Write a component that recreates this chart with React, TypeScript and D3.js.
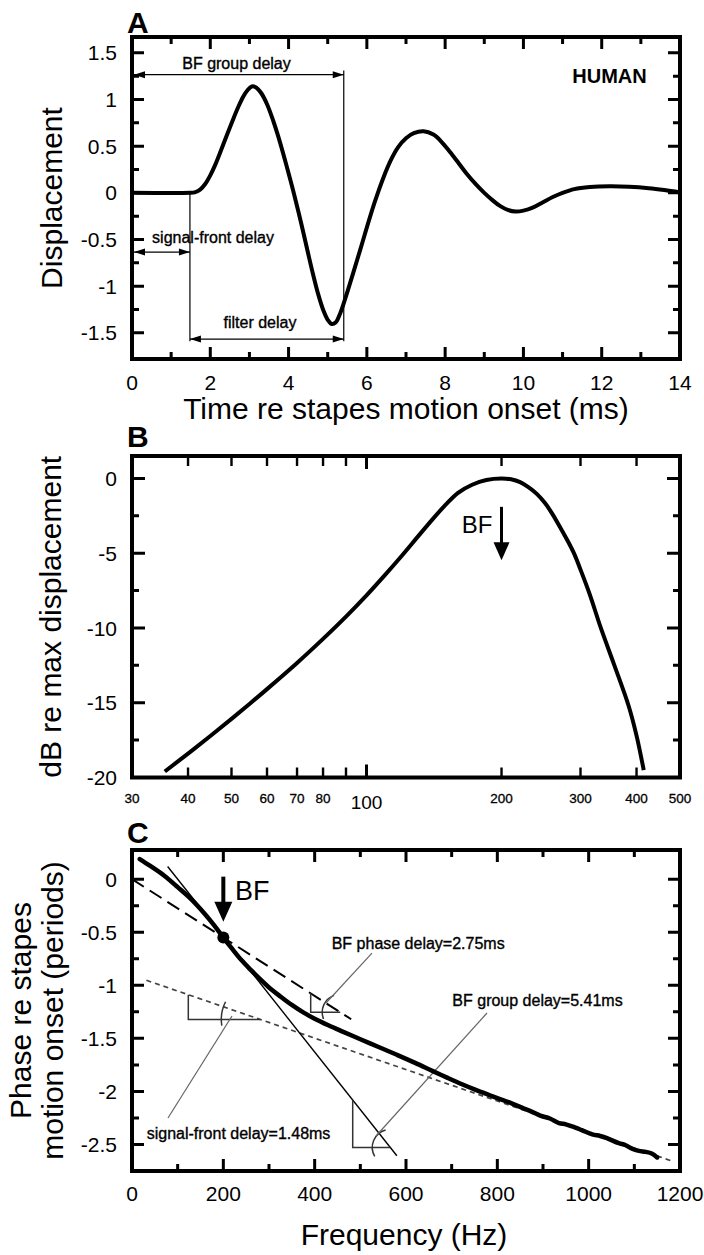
import React from 'react';
import * as d3 from 'd3';

const FONT = "'Liberation Sans', Arial, Helvetica, sans-serif";

// ---------- Panel A: impulse response ----------
const aTime = [0, 1.48, 1.6, 1.74, 1.87, 1.99, 2.12, 2.25, 2.42, 2.59, 2.72, 2.84, 2.95, 3.06, 3.17, 3.3, 3.45, 3.61, 3.74, 3.87, 4.0, 4.12, 4.25, 4.38, 4.5, 4.63, 4.76, 4.89, 5.0, 5.1, 5.2, 5.31, 5.45, 5.65, 5.83, 6.0, 6.2, 6.42, 6.6, 6.8, 7.0, 7.2, 7.45, 7.7, 7.9, 8.12, 8.35, 8.55, 8.8, 9.0, 9.2, 9.4, 9.6, 9.8, 10.0, 10.25, 10.5, 10.75, 11.0, 11.3, 11.7, 12.2, 12.7, 13.2, 13.6, 14];
const aDisp = [0, 0, 0.006, 0.035, 0.095, 0.18, 0.295, 0.43, 0.615, 0.795, 0.925, 1.03, 1.1, 1.14, 1.13, 1.07, 0.95, 0.77, 0.6, 0.41, 0.21, 0.02, -0.2, -0.43, -0.65, -0.88, -1.09, -1.26, -1.36, -1.405, -1.39, -1.3, -1.13, -0.86, -0.61, -0.37, -0.1, 0.16, 0.34, 0.49, 0.585, 0.64, 0.66, 0.625, 0.55, 0.44, 0.315, 0.205, 0.085, 0.0, -0.075, -0.14, -0.183, -0.2, -0.19, -0.155, -0.1, -0.045, 0.0, 0.04, 0.062, 0.07, 0.065, 0.05, 0.03, 0.005];
const aXMajor = [0, 2, 4, 6, 8, 10, 12, 14];
const aXMinor = [1, 3, 5, 7, 9, 11, 13];
const aYMajor = [-1.5, -1, -0.5, 0, 0.5, 1, 1.5];
const aYLabels = ['-1.5', '-1', '-0.5', '0', '0.5', '1', '1.5'];
const aYMinor = [-1.25, -0.75, -0.25, 0.25, 0.75, 1.25];
const aSignalFront = 1.48;
const aGroupDelay = 5.41;
const aGroupArrowY = 1.266;
const aSignalArrowY = -0.634;
const aFilterArrowY = -1.567;
const aGuideTop = 1.31;
const aGuideBottom = -1.59;

// ---------- Panel B: magnitude ----------
const bFreq = [35.5, 40, 45, 50, 55, 60, 70, 80, 90, 100, 110, 120, 130, 140, 150, 160, 172, 185, 200, 210, 220, 230, 240, 250, 260, 270, 280, 290, 300, 315, 333, 357, 384, 400, 415];
const bDb = [-19.6, -18.4, -17.19, -16.08, -15.05, -14.09, -12.34, -10.73, -9.24, -7.82, -6.45, -5.15, -3.91, -2.77, -1.77, -0.96, -0.42, -0.1, 0, -0.06, -0.25, -0.6, -1.05, -1.65, -2.4, -3.25, -4.1, -5.0, -6.1, -7.8, -10.0, -12.5, -15.2, -17.2, -19.5];
const bXLabels = [30, 40, 50, 60, 70, 80, 100, 200, 300, 400, 500];
const bXTicks = [40, 50, 60, 70, 80, 90, 200, 300, 400];
const bXBigTick = [100];
const bYMajor = [0, -5, -10, -15, -20];
const bYMinor = [-2.5, -7.5, -12.5, -17.5];
const bBF = 200;
const bArrowTop = -1.9;
const bArrowTip = -5.47;

// ---------- Panel C: phase ----------
const cFreq = [17, 40, 70, 100, 130, 160, 180, 200, 220, 240, 260, 280, 300, 325, 350, 375, 400, 430, 460, 500, 540, 580, 620, 660, 690, 724, 750, 782, 800, 830, 855, 875, 894, 915, 935, 950, 964, 985, 1008, 1025, 1040, 1066, 1080, 1095, 1110, 1125, 1138, 1150];
const cPhase = [0.19, 0.125, 0.035, -0.075, -0.19, -0.33, -0.435, -0.55, -0.66, -0.765, -0.855, -0.94, -1.02, -1.105, -1.185, -1.255, -1.315, -1.377, -1.434, -1.508, -1.581, -1.655, -1.731, -1.811, -1.87, -1.935, -1.981, -2.034, -2.063, -2.11, -2.155, -2.19, -2.228, -2.255, -2.298, -2.31, -2.33, -2.365, -2.405, -2.42, -2.44, -2.488, -2.505, -2.54, -2.56, -2.57, -2.585, -2.622];
const cXMajor = [0, 200, 400, 600, 800, 1000, 1200];
const cXMinor = [100, 300, 500, 700, 900, 1100];
const cYMajor = [0, -0.5, -1, -1.5, -2, -2.5];
const cYLabels = ['0', '-0.5', '-1', '-1.5', '-2', '-2.5'];
const cYMinor = [-0.25, -0.75, -1.25, -1.75, -2.25];
const cBF = [200, -0.55];
const cPhaseDelayLine = [[0, 0], [480, -1.32]];
const cGroupDelayLine = [[78, 0.12], [580, -2.606]];
const cSignalFrontLine = [[31.6, -0.953], [1185, -2.66]];
const cSFTriangle = [[123.3, -1.088], [123.3, -1.322], [281, -1.322]];
const cPDTriangle = [[391.3, -1.076], [391.3, -1.254], [456, -1.254]];
const cGDTriangle = [[483.3, -2.083], [483.3, -2.528], [565.6, -2.528]];
// arcs: [centerF, centerPhase, radiusPx, startDeg, endDeg]
const cArcs = [[281, -1.322, 39, -9, 27], [456, -1.254, 18, -22, 70], [565.6, -2.528, 18, -30, 75]];
const cLeaders = [[[525.5, -0.696], [424.8, -1.167]], [[777.4, -1.261], [534.3, -2.42]], [[219, -1.289], [78.8, -2.251]]];
const cArrowTop = 0.024;
const cArrowTip = -0.402;

const X0 = 132;
const X1 = 680;

function tickPath(xs: any, ys: any, xMaj: number[], xMin: number[], yMaj: number[], yMin: number[], maj: number, mn: number) {
  const r = ys.range();
  const yb = r[0];
  const yt = r[1];
  let d = '';
  const seg = (x1: number, y1: number, x2: number, y2: number) => {
    d += `M${x1},${y1}L${x2},${y2}`;
  };
  xMaj.forEach((v) => { const x = xs(v); seg(x, yb, x, yb - maj); seg(x, yt, x, yt + maj); });
  xMin.forEach((v) => { const x = xs(v); seg(x, yb, x, yb - mn); seg(x, yt, x, yt + mn); });
  yMaj.forEach((v) => { const y = ys(v); seg(X0, y, X0 + maj, y); seg(X1, y, X1 - maj, y); });
  yMin.forEach((v) => { const y = ys(v); seg(X0, y, X0 + mn, y); seg(X1, y, X1 - mn, y); });
  return d;
}

function frame(ys: any) {
  const r = ys.range();
  return <rect x={X0} y={r[1]} width={X1 - X0} height={r[0] - r[1]} fill="none" stroke="#000" strokeWidth={4} />;
}

function hArrow(x1: number, x2: number, y: number) {
  const L = 11, hw = 3.5;
  return (
    <g>
      <line x1={x1} y1={y} x2={x2} y2={y} stroke="#000" strokeWidth={1.2} />
      <polygon points={`${x1},${y} ${x1 + L},${y - hw} ${x1 + L},${y + hw}`} fill="#000" />
      <polygon points={`${x2},${y} ${x2 - L},${y - hw} ${x2 - L},${y + hw}`} fill="#000" />
    </g>
  );
}

function downArrow(x: number, y1: number, tip: number, w: number, hl: number, hw: number) {
  return (
    <g>
      <line x1={x} y1={y1} x2={x} y2={tip - hl + 2} stroke="#000" strokeWidth={w} />
      <polygon points={`${x - hw},${tip - hl} ${x + hw},${tip - hl} ${x},${tip}`} fill="#000" />
    </g>
  );
}

function arcPath(cx: number, cy: number, r: number, a0: number, a1: number) {
  const rad = Math.PI / 180;
  const p0 = [cx - r * Math.cos(a0 * rad), cy - r * Math.sin(a0 * rad)];
  const p1 = [cx - r * Math.cos(a1 * rad), cy - r * Math.sin(a1 * rad)];
  return `M${p0[0]},${p0[1]} A${r},${r} 0 0 1 ${p1[0]},${p1[1]}`;
}

export default function App() {
  const xA = d3.scaleLinear().domain([0, 14]).range([X0, X1]);
  const yA = d3.scaleLinear().domain([-1.78, 1.67]).range([359, 37]);
  const xB = d3.scaleLog().domain([30, 500]).range([X0, X1]);
  const yB = d3.scaleLinear().domain([-20, 1.5]).range([777.5, 456]);
  const xC = d3.scaleLinear().domain([0, 1200]).range([X0, X1]);
  const yC = d3.scaleLinear().domain([-2.75, 0.275]).range([1171, 850]);

  const lineA = d3.line<number>().x((d, i) => xA(aTime[i])).y((d) => yA(d)).curve(d3.curveCatmullRom.alpha(0.5));
  const lineB = d3.line<number>().x((d, i) => xB(bFreq[i])).y((d) => yB(d)).curve(d3.curveCatmullRom.alpha(0.5));
  const lineC = d3.line<number>().x((d, i) => xC(cFreq[i])).y((d) => yC(d)).curve(d3.curveCatmullRom.alpha(0.5));
  const segC = d3.line<number[]>().x((d) => xC(d[0])).y((d) => yC(d[1]));

  const tickFont = { fontFamily: FONT, fontSize: 21, fill: '#000' } as any;
  const titleFont = { fontFamily: FONT, fontSize: 30, fill: '#000' } as any;
  const annFont = { fontFamily: FONT, fontSize: 16, fill: '#000', stroke: '#000', strokeWidth: 0.35 } as any;
  const letterFont = { fontFamily: FONT, fontSize: 30, fontWeight: 'bold', fill: '#000' } as any;

  const aMid = (yA.range()[0] + yA.range()[1]) / 2;
  const bMid = (yB.range()[0] + yB.range()[1]) / 2;
  const cMid = (yC.range()[0] + yC.range()[1]) / 2;
  const xMid = (X0 + X1) / 2;

  const ticksA = tickPath(xA, yA, aXMajor, aXMinor, aYMajor, aYMinor, 12, 7);
  const ticksB1 = tickPath(xB, yB, bXBigTick, [], bYMajor, bYMinor, 13, 7);
  const ticksB2 = tickPath(xB, yB, bXTicks, [], [], [], 10, 7);
  const ticksC = tickPath(xC, yC, cXMajor, cXMinor, cYMajor, cYMinor, 12, 7);

  return (
    <svg width={704} height={1255} style={{ position: 'absolute', left: 0, top: 0, background: '#fff' }}>
      <rect x={0} y={0} width={704} height={1255} fill="#fff" />
      {/* ================= Panel A ================= */}
      <text x={127} y={33} style={letterFont}>A</text>
      <path d={ticksA} fill="none" stroke="#000" strokeWidth={3} />
      {aYMajor.map((v, i) => (
        <text key={'ayl' + i} x={117} y={yA(v)} dy="0.36em" textAnchor="end" style={tickFont}>{aYLabels[i]}</text>
      ))}
      {aXMajor.map((v, i) => (
        <text key={'axl' + i} x={xA(v)} y={390} textAnchor="middle" style={tickFont}>{v}</text>
      ))}
      <text x={xMid} y={419} textAnchor="middle" style={titleFont}>Time re stapes motion onset (ms)</text>
      <text transform={`translate(62,${aMid}) rotate(-90)`} textAnchor="middle" style={titleFont}>Displacement</text>
      {/* annotations */}
      <line x1={xA(aGroupDelay)} y1={yA(aGuideTop)} x2={xA(aGroupDelay)} y2={yA(aGuideBottom)} stroke="#000" strokeWidth={1.2} />
      <line x1={xA(aSignalFront)} y1={yA(0)} x2={xA(aSignalFront)} y2={yA(aGuideBottom)} stroke="#000" strokeWidth={1.2} />
      {hArrow(xA(0) + 2, xA(aGroupDelay), yA(aGroupArrowY))}
      {hArrow(xA(0) + 2, xA(aSignalFront), yA(aSignalArrowY))}
      {hArrow(xA(aSignalFront), xA(aGroupDelay), yA(aFilterArrowY))}
      <text x={xA(2.67)} y={yA(1.33)} textAnchor="middle" style={annFont}>BF group delay</text>
      <text x={xA(2.07)} y={yA(-0.535)} textAnchor="middle" style={annFont}>signal-front delay</text>
      <text x={xA(3.27)} y={yA(-1.45)} textAnchor="middle" style={annFont}>filter delay</text>
      <text x={xA(12.2)} y={yA(1.18)} textAnchor="middle" style={{ fontFamily: FONT, fontSize: 20, fontWeight: 'bold', fill: '#000' }}>HUMAN</text>
      <path d={lineA(aDisp) || ''} fill="none" stroke="#000" strokeWidth={4} strokeLinejoin="round" />
      {frame(yA)}

      {/* ================= Panel B ================= */}
      <text x={127} y={447} style={letterFont}>B</text>
      <path d={ticksB1} fill="none" stroke="#000" strokeWidth={3} />
      <path d={ticksB2} fill="none" stroke="#000" strokeWidth={2.4} />
      {bYMajor.map((v, i) => (
        <text key={'byl' + i} x={117} y={yB(v)} dy="0.36em" textAnchor="end" style={tickFont}>{String(v)}</text>
      ))}
      {bXLabels.map((v, i) => (
        v === 100 ? (
          <text key={'bxl' + i} x={xB(v)} y={809} textAnchor="middle" style={{ fontFamily: FONT, fontSize: 19, fill: '#000' }}>{v}</text>
        ) : (
          <text key={'bxl' + i} x={xB(v)} y={803} textAnchor="middle" style={{ fontFamily: FONT, fontSize: 13.5, fill: '#000', stroke: '#000', strokeWidth: 0.3 }}>{v}</text>
        )
      ))}
      <text transform={`translate(61,${bMid}) rotate(-90)`} textAnchor="middle" style={titleFont}>dB re max displacement</text>
      <path d={lineB(bDb) || ''} fill="none" stroke="#000" strokeWidth={4} strokeLinejoin="round" />
      {downArrow(xB(bBF), yB(bArrowTop), yB(bArrowTip), 3, 18, 8)}
      <text x={xB(bBF) - 9} y={yB(-3.67)} textAnchor="end" style={{ fontFamily: FONT, fontSize: 24, fill: '#000' }}>BF</text>
      {frame(yB)}

      {/* ================= Panel C ================= */}
      <text x={127} y={843} style={letterFont}>C</text>
      <path d={ticksC} fill="none" stroke="#000" strokeWidth={3} />
      {cYMajor.map((v, i) => (
        <text key={'cyl' + i} x={117} y={yC(v)} dy="0.36em" textAnchor="end" style={tickFont}>{cYLabels[i]}</text>
      ))}
      {cXMajor.map((v, i) => (
        <text key={'cxl' + i} x={xC(v)} y={1201} textAnchor="middle" style={tickFont}>{v}</text>
      ))}
      <text x={xMid - 2} y={1245} textAnchor="middle" style={titleFont}>Frequency (Hz)</text>
      <text transform={`translate(31,${cMid}) rotate(-90)`} textAnchor="middle" style={titleFont}>Phase re stapes</text>
      <text transform={`translate(63,${cMid}) rotate(-90)`} textAnchor="middle" style={titleFont}>motion onset (periods)</text>

      {/* reference lines */}
      <path d={segC(cSignalFrontLine) || ''} fill="none" stroke="#444" strokeWidth={1.7} strokeDasharray="5,4" />
      <path d={segC(cPhaseDelayLine) || ''} fill="none" stroke="#000" strokeWidth={2} strokeDasharray="14,7" />
      <path d={segC(cGroupDelayLine) || ''} fill="none" stroke="#000" strokeWidth={1.4} />
      {[cSFTriangle, cPDTriangle, cGDTriangle].map((t, i) => (
        <path key={'tri' + i} d={segC(t) || ''} fill="none" stroke="#333" strokeWidth={1.5} />
      ))}
      {cArcs.map((a, i) => (
        <path key={'arc' + i} d={arcPath(xC(a[0]), yC(a[1]), a[2], a[3], a[4])} fill="none" stroke="#333" strokeWidth={1.5} />
      ))}
      {cLeaders.map((l, i) => (
        <path key={'ld' + i} d={segC(l) || ''} fill="none" stroke="#666" strokeWidth={1.2} />
      ))}
      <path d={lineC(cPhase) || ''} fill="none" stroke="#000" strokeWidth={4.5} strokeLinejoin="round" strokeLinecap="round" />
      <circle cx={xC(cBF[0])} cy={yC(cBF[1])} r={6} fill="#000" />
      {downArrow(xC(cBF[0]), yC(cArrowTop), yC(cArrowTip), 4, 20, 9)}
      <text x={xC(225.5)} y={yC(-0.196)} style={{ fontFamily: FONT, fontSize: 27, fill: '#000' }}>BF</text>
      <text x={xC(437.3)} y={yC(-0.658)} style={annFont}>BF phase delay=2.75ms</text>
      <text x={xC(888)} y={yC(-1.195)} textAnchor="middle" style={annFont}>BF group delay=5.41ms</text>
      <text x={xC(32.2)} y={yC(-2.449)} style={annFont}>signal-front delay=1.48ms</text>
      {frame(yC)}
    </svg>
  );
}
